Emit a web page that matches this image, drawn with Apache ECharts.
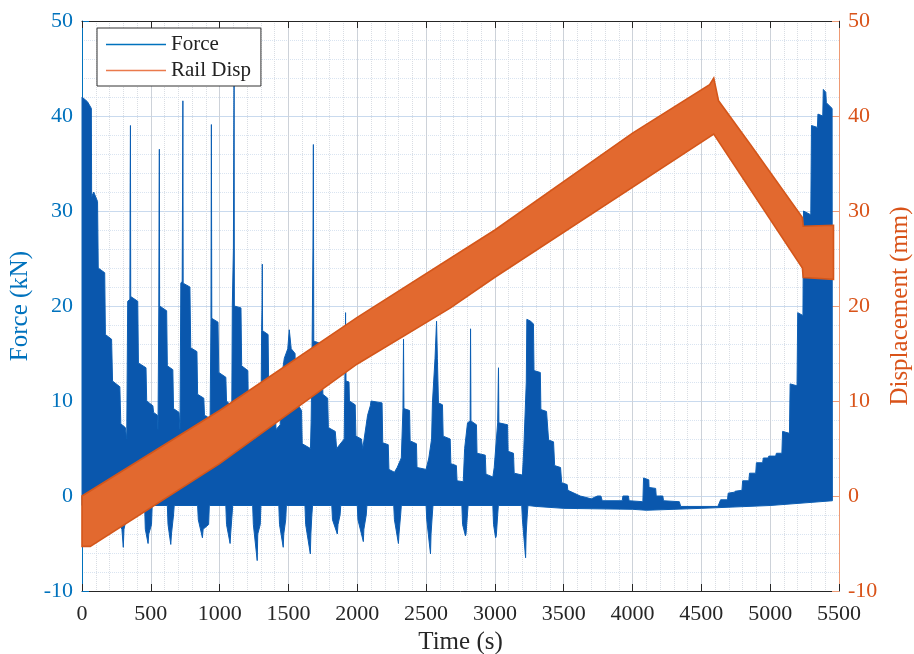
<!DOCTYPE html>
<html>
<head>
<meta charset="utf-8">
<script src="https://cdn.jsdelivr.net/npm/echarts@6/dist/echarts.min.js"></script>
<style>
html,body{margin:0;padding:0;background:#fff}
#chart{width:914px;height:654px}
</style>
</head>
<body>
<div id="chart"></div>
<script>
// force envelope: [time s, kN]
const forceTop = [
  [0,42],[40,41.5],[68,40.8],[70,31.5],[85,32],[113,31],[118,24],[165,23.5],[170,17],[215,16.5],[222,12.1],[275,11.5],[282,7.6],[315,7.2],
  [325,6],[332,20.5],[348,20.7],[350,33],[352,39],[354,21],[405,20.5],[410,14],[465,13.5],[470,10],[515,9.5],[520,8.8],[548,8.5],
  [552,7],[558,19.8],[560,30],[562,36.5],[564,20],[615,19.5],[620,13.7],[660,13.3],[665,9.2],[705,8.8],
  [712,7],[718,22.4],[728,22.6],[731,34],[733,41.6],[735,22.4],[784,22],[790,15.6],[835,15.2],[840,10.7],[885,10.3],[890,8.5],[925,8.2],
  [930,7],[937,18.7],[940,39.1],[943,18.7],[988,18.3],[994,13],[1045,12.5],[1050,10],[1085,9.5],
  [1088,8],[1092,20],[1100,26],[1103,38],[1105,43.5],[1107,20],[1155,19.8],[1160,13.7],[1205,13.2],[1210,8],[1250,7.5],
  [1255,6],[1300,7],[1305,17.4],[1308,20],[1310,24.4],[1312,17.4],[1352,17],[1357,11],[1400,10],[1410,7],[1440,7.5],
  [1445,12],[1470,14.5],[1495,15.5],[1506,17.5],[1520,15.5],[1548,15],[1552,10],[1595,9],[1600,5.5],[1660,5],
  [1665,8],[1672,16.3],[1678,26],[1681,37],[1684,16.3],[1745,16],[1750,10.7],[1785,10.3],[1790,7.2],[1840,6.8],
  [1850,5],[1905,6],[1910,12.1],[1915,19.3],[1918,12.1],[1940,12],[1943,10],[1985,9.6],[1990,6.3],[2030,6],
  [2040,5],[2075,8.5],[2095,9.5],[2100,10],[2180,9.8],[2185,5.6],[2225,5.4],[2230,2.8],[2270,2.5],
  [2290,3],[2320,4],[2332,9.2],[2336,16.5],[2339,9.2],[2380,9],[2384,5.8],[2430,5.5],[2434,3],[2500,2.8],
  [2520,4],[2540,6],[2546,9.8],[2565,14.5],[2576,18.4],[2582,14.5],[2590,9.8],[2619,9.6],[2624,6.3],[2675,6],[2680,3.4],[2720,3.2],[2725,1.6],[2770,1.5],
  [2780,5],[2801,7.7],[2820,7.9],[2823,17.6],[2826,7.9],[2866,7.5],[2870,4.5],[2930,4.3],[2935,2.3],[2985,2],
  [2995,3],[3020,7.7],[3026,13.5],[3029,7.7],[3092,7.5],[3096,4.7],[3135,4.5],[3140,2.4],[3200,2.2],
  [3210,5],[3228,12],[3232,18.6],[3260,18.4],[3280,18.1],[3284,13.2],[3330,13],[3334,9.1],[3375,8.9],[3390,5.9],[3426,5.7],[3434,3.2],[3477,3],[3485,1.4],[3525,1.2],[3530,0.6],[3620,0],[3700,-0.3],[3745,0],[3770,0],[3780,-0.5],[3925,-0.5],[3930,0],[3970,0],[3975,-0.5],[4075,-0.6],
  [4080,1.9],[4118,1.7],[4120,0.9],[4168,0.8],[4172,0],[4220,0],[4225,-0.5],[4340,-0.6],[4350,-1.1],[4620,-1.1],[4640,-0.4],[4690,-0.4],[4695,0.3],[4740,0.4],[4745,0.5],[4795,0.6],[4800,1.6],[4845,1.6],[4850,2.4],[4895,2.4],[4900,3.5],[4945,3.5],[4950,4],[4985,4],[4990,4.2],[5040,4.2],[5045,4.5],[5085,4.5],[5090,6.8],[5140,6.6],[5145,11.8],[5195,11.6],[5200,19.3],[5238,19],[5242,30],[5295,29.6],[5300,39],[5343,38.8],[5347,40.2],[5382,40],[5386,42.8],[5404,42.5],[5408,41.4],[5450,40.8],[5452,-0.5]
];
const forceBottom = [
  [0,-1],[265,-1],[270,-3],[290,-3.5],[300,-5.4],[305,-3.5],[320,-2.5],[325,-1],
  [455,-1],[460,-3.5],[480,-5],[485,-4],[505,-3],[510,-1],
  [620,-1],[625,-3],[645,-5.1],[650,-4],[665,-2],[670,-1],
  [840,-1],[845,-2.5],[875,-4.4],[880,-3.5],[920,-3],[925,-1],
  [1045,-1],[1050,-3],[1076,-5],[1080,-4],[1090,-2],[1095,-1],
  [1240,-1],[1245,-3],[1273,-6.8],[1277,-4],[1295,-3],[1300,-1],
  [1430,-1],[1435,-3],[1462,-5.4],[1466,-4],[1480,-2.5],[1485,-1],
  [1620,-1],[1625,-3],[1659,-6.1],[1663,-4],[1670,-2],[1675,-1],
  [1815,-1],[1820,-2.5],[1855,-4],[1860,-3],[1875,-2],[1880,-1],
  [2000,-1],[2005,-2.5],[2044,-4.8],[2048,-3.5],[2065,-2],[2070,-1],
  [2265,-1],[2270,-2.5],[2299,-5],[2303,-4],[2315,-2],[2320,-1],
  [2500,-1],[2505,-2.5],[2532,-6.1],[2536,-4],[2545,-2],[2550,-1],
  [2760,-1],[2765,-3],[2786,-4.2],[2790,-4],[2800,-2],[2805,-1],
  [2985,-1],[2990,-3],[3005,-4.4],[3010,-4.2],[3020,-2],[3025,-1],
  [3195,-1],[3200,-2.5],[3223,-6.5],[3227,-4],[3235,-2],[3240,-1],
  [3300,-1.1],[3500,-1.3],[4000,-1.4],[4100,-1.5],[4500,-1.3],[5000,-1],[5452,-0.5]
];
// rail displacement envelope: [time s, mm]
const dispTop = [[0,0],[1000,9],[2000,18.8],[3000,28],[4000,38.2],[4560,43.3],[4590,44],[4625,41.6],[4856,37],[5234,29.3],[5240,28.4],[5460,28.5]];
const dispBottom = [[0,-5.3],[60,-5.3],[1000,3.4],[2000,13.9],[2677,19.8],[2997,23],[4590,38.1],[5234,24],[5240,23],[5460,22.8]];

const serif = 'Liberation Serif';
const blue = '#0072BD';
const orange = '#D95319';

function band(name, top, bottom, fill, stroke, width, yIdx) {
  return {
    name: name, type: 'custom', yAxisIndex: yIdx, data: top,
    encode: {x: 0, y: 1}, silent: true,
    itemStyle: {color: stroke},
    renderItem: function (params, api) {
      if (params.dataIndex !== 0) return;
      const pts = top.map(p => api.coord(p)).concat(bottom.slice().reverse().map(p => api.coord(p)));
      return {type: 'polygon', shape: {points: pts}, style: {fill: fill, stroke: stroke, lineWidth: width, lineJoin: 'miter'}};
    }
  };
}

const plain = v => String(v);

const chart = echarts.init(document.getElementById('chart'));
chart.setOption({
  animation: false,
  grid: {left: 82, right: 75, top: 21, bottom: 63, outerBoundsMode: 'none', containLabel: false},
  legend: {
    left: 97, top: 28, orient: 'vertical',
    backgroundColor: '#fff', borderColor: '#333', borderWidth: 1, borderRadius: 0,
    padding: [6, 10, 5, 9], itemGap: 5, itemWidth: 60, itemHeight: 1.5, icon: 'rect',
    itemStyle: {borderWidth: 0},
    textStyle: {fontFamily: serif, fontSize: 21, color: '#222'},
    data: [
      {name: 'Force', itemStyle: {color: blue, borderWidth: 0}},
      {name: 'Rail Disp', itemStyle: {color: '#ea7a4c', borderWidth: 0}}
    ]
  },
  xAxis: [{
    type: 'value', min: 0, max: 5500, interval: 500, position: 'bottom',
    name: 'Time (s)', nameLocation: 'middle', nameGap: 39,
    nameTextStyle: {fontFamily: serif, fontSize: 25, color: '#262626'},
    axisLine: {onZero: false, lineStyle: {color: '#262626'}},
    axisTick: {inside: true, length: 7, lineStyle: {color: '#262626'}},
    axisLabel: {fontFamily: serif, fontSize: 22, color: '#262626', margin: 12, formatter: plain},
    splitLine: {lineStyle: {color: '#cdd2d9'}},
    minorTick: {show: false, splitNumber: 5},
    minorSplitLine: {show: true, lineStyle: {color: '#d9dde3', type: 'dotted'}}
  }, {
    type: 'value', min: 0, max: 5500, interval: 500, position: 'top',
    axisLine: {onZero: false, lineStyle: {color: '#262626'}},
    axisTick: {inside: true, length: 7, lineStyle: {color: '#262626'}},
    axisLabel: {show: false}, splitLine: {show: false}
  }],
  yAxis: [{
    type: 'value', min: -10, max: 50, interval: 10, position: 'left',
    name: 'Force (kN)', nameLocation: 'middle', nameGap: 45,
    nameTextStyle: {fontFamily: serif, fontSize: 25, color: blue},
    axisLine: {show: true, onZero: false, lineStyle: {color: blue}},
    axisTick: {show: true, inside: true, length: 7, lineStyle: {color: blue}},
    axisLabel: {fontFamily: serif, fontSize: 22, color: blue, margin: 9, formatter: plain},
    splitLine: {lineStyle: {color: '#c9daee'}},
    minorTick: {show: false, splitNumber: 5},
    minorSplitLine: {show: true, lineStyle: {color: '#d9e4f1', type: 'dotted'}}
  }, {
    type: 'value', min: -10, max: 50, interval: 10, position: 'right',
    name: 'Displacement (mm)', nameLocation: 'middle', nameGap: 49,
    nameTextStyle: {fontFamily: serif, fontSize: 25, color: orange},
    axisLine: {show: true, onZero: false, lineStyle: {color: '#ee9a74'}},
    axisTick: {show: true, inside: true, length: 7, lineStyle: {color: '#ee9a74'}},
    axisLabel: {fontFamily: serif, fontSize: 22, color: orange, margin: 9, formatter: plain},
    splitLine: {show: false}
  }],
  series: [
    band('Force', forceTop, forceBottom, '#0a57ad', '#0b5eb4', 1, 0),
    band('Rail Disp', dispTop, dispBottom, '#e2692f', '#d4561a', 1.6, 1)
  ]
});
</script>
</body>
</html>
